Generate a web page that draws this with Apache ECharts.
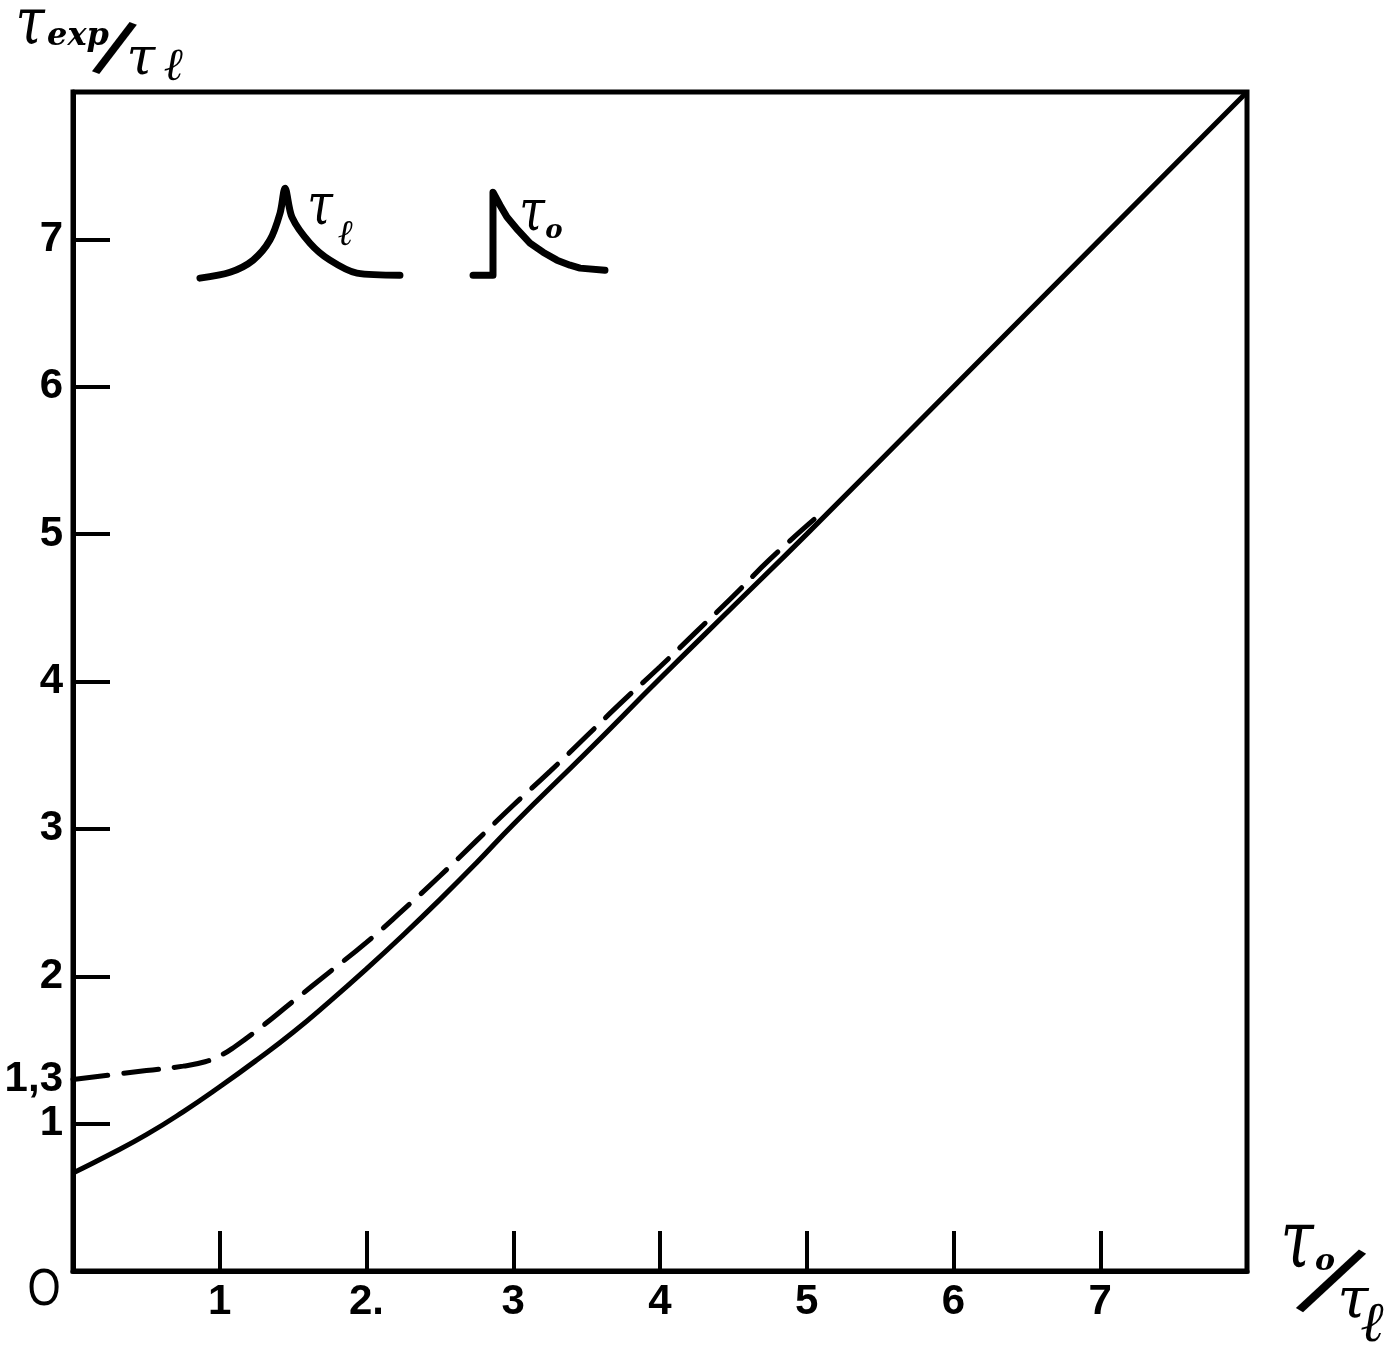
<!DOCTYPE html>
<html>
<head>
<meta charset="utf-8">
<script src="https://cdn.jsdelivr.net/npm/echarts@6/dist/echarts.min.js"></script>
<style>
  html, body { margin: 0; padding: 0; background: #fff; }
  #chart { width: 1389px; height: 1353px; }
</style>
</head>
<body>
<div id="chart"></div>
<script>
// Response time ratio τexp/τℓ versus τo/τℓ
const xTickValues = [1, 2, 3, 4, 5, 6, 7];
const xTickLabels = ['1', '2.', '3', '4', '5', '6', '7'];
const yTickValues = [1, 2, 3, 4, 5, 6, 7];
const yLabelValues = [1, 1.3, 2, 3, 4, 5, 6, 7];
const yLabelTexts = ['1', '1,3', '2', '3', '4', '5', '6', '7'];

// solid curve: [τo/τℓ, τexp/τℓ]
const solidCurve = [
  [0, 0.665], [0.25, 0.79], [0.5, 0.925], [0.75, 1.08], [1, 1.25],
  [1.25, 1.43], [1.5, 1.62], [1.75, 1.83], [2, 2.05], [2.25, 2.28],
  [2.5, 2.52], [2.75, 2.77], [3, 3.03], [3.5, 3.52], [4, 4.02],
  [4.5, 4.51], [5, 5.0], [6, 6.0], [7, 7.0], [8, 8]
];

// dashed curve: [τo/τℓ, τexp/τℓ]
const dashedCurve = [
  [0, 1.30], [0.25, 1.33], [0.5, 1.36], [0.75, 1.39], [0.9, 1.42],
  [1.0, 1.46], [1.1, 1.52], [1.25, 1.63], [1.5, 1.83], [1.75, 2.03],
  [2, 2.23], [2.25, 2.45], [2.5, 2.68], [2.75, 2.92], [3, 3.16],
  [3.25, 3.39], [3.5, 3.63], [3.75, 3.87], [4, 4.1], [4.25, 4.34],
  [4.5, 4.58], [4.75, 4.83], [5.05, 5.1]
];

// inset sketches: symmetric pulse (τℓ) and step with decay (τo)
const pulseSymmetric = [
  [0.865, 6.737], [1.07, 6.777], [1.227, 6.859], [1.342, 6.995],
  [1.411, 7.178], [1.445, 7.347], [1.492, 7.151], [1.615, 6.974],
  [1.751, 6.859], [1.935, 6.771], [2.228, 6.757]
];
const pulseStep = [
  [2.726, 6.757], [2.862, 6.757], [2.862, 7.32], [2.91, 7.232],
  [2.957, 7.151], [3.032, 7.062], [3.114, 6.974], [3.203, 6.913],
  [3.298, 6.859], [3.387, 6.825], [3.455, 6.805], [3.625, 6.791]
];

const chart = echarts.init(document.getElementById('chart'), null, { renderer: 'canvas' });

const labelFont = {
  color: '#000', fontSize: 42, fontWeight: 'bold', fontFamily: 'Liberation Sans'
};
const scriptFont = 'DejaVu Serif';

// centred script glyph
function glyph(x, y, text, size, extra, elProps) {
  return Object.assign({
    type: 'text', x: x, y: y, z: 10,
    style: Object.assign({
      text: text, fill: '#000', fontSize: size,
      fontFamily: scriptFont, fontStyle: 'italic',
      align: 'center', verticalAlign: 'middle'
    }, extra || {})
  }, elProps || {});
}
// slanted fraction bar
function slash(x, y, size, deg, weight) {
  return glyph(x, y, '/', size,
    { fontStyle: 'normal', fontFamily: 'DejaVu Sans', fontWeight: weight },
    { rotation: deg * Math.PI / 180 });
}

const option = {
  backgroundColor: '#fff',
  animation: false,
  grid: {
    left: 73, right: 142, top: 92, bottom: 82,
    show: true, borderColor: '#000', borderWidth: 5
  },
  xAxis: {
    type: 'value', min: 0, max: 8, interval: 1,
    axisLine: { show: true, onZero: false, lineStyle: { color: '#000', width: 5 } },
    axisTick: {
      show: true, inside: true, length: 40, customValues: xTickValues,
      lineStyle: { color: '#000', width: 4 }
    },
    axisLabel: Object.assign({
      customValues: xTickValues, margin: 10,
      formatter: v => xTickLabels[xTickValues.indexOf(v)]
    }, labelFont),
    splitLine: { show: false }
  },
  yAxis: {
    type: 'value', min: 0, max: 8, interval: 1,
    axisLine: { show: true, onZero: false, lineStyle: { color: '#000', width: 5 } },
    axisTick: {
      show: true, inside: true, length: 37, customValues: yTickValues,
      lineStyle: { color: '#000', width: 4 }
    },
    axisLabel: Object.assign({
      customValues: yLabelValues, margin: 10,
      formatter: v => yLabelTexts[yLabelValues.indexOf(v)]
    }, labelFont),
    splitLine: { show: false }
  },
  series: [
    {
      name: 'solid', type: 'line', data: solidCurve, smooth: 0.5,
      showSymbol: false, lineStyle: { color: '#000', width: 5 }
    },
    {
      name: 'dashed', type: 'line', data: dashedCurve, smooth: 0.5,
      showSymbol: false, lineStyle: { color: '#000', width: 5, type: [35, 16], cap: 'round' }
    },
    {
      name: 'pulse τℓ', type: 'line', data: pulseSymmetric, smooth: 0.3,
      showSymbol: false, lineStyle: { color: '#000', width: 7, cap: 'round', join: 'round' }
    },
    {
      name: 'pulse τo', type: 'line', data: pulseStep, smooth: false,
      showSymbol: false, lineStyle: { color: '#000', width: 7, cap: 'round', join: 'round' }
    }
  ],
  graphic: [
    // origin
    glyph(44, 1291, 'O', 52,
      { fontStyle: 'normal', fontFamily: 'Liberation Sans' }, { scaleX: 0.82 }),
    // vertical axis title τexp/τℓ
    glyph(30, 27, 'τ', 66, null, { scaleX: 0.8 }),
    glyph(78, 37, 'exp', 32, { fontWeight: 'bold' }),
    slash(113, 52, 72, -20, 'bold'),
    glyph(141, 60, 'τ', 52),
    glyph(173, 68, 'ℓ', 46),
    // horizontal axis title τo/τℓ
    glyph(1297, 1246, 'τ', 80, null, { scaleX: 0.75 }),
    glyph(1325, 1262, 'o', 30, { fontWeight: 'bold' }),
    slash(1328, 1286, 100, -30, 'normal'),
    glyph(1353, 1302, 'τ', 56),
    glyph(1372, 1326, 'ℓ', 56),
    // inset labels
    glyph(320, 209, 'τ', 58, null, { scaleX: 0.8 }),
    glyph(345, 236, 'ℓ', 36),
    glyph(532, 215, 'τ', 58, null, { scaleX: 0.8 }),
    glyph(554, 231, 'o', 26, { fontWeight: 'bold' })
  ]
};

chart.setOption(option);
</script>
</body>
</html>
